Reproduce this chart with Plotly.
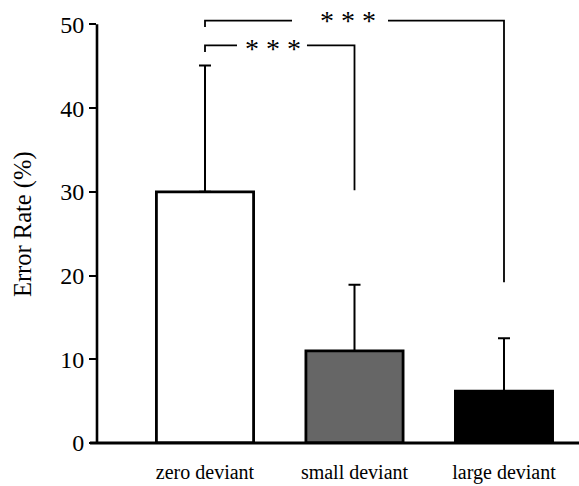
import plotly.graph_objects as go

# ---- data ----
categories = ["zero deviant", "small deviant", "large deviant"]
error_rate = [30.0, 11.0, 6.2]
error_sd = [15.1, 7.9, 6.3]
y_ticks = [0, 10, 20, 30, 40, 50]

# significance comparisons
comp_from = [0, 0]
comp_to = [1, 2]
comp_level = [47.5, 50.45]
comp_left_drop = [46.7, 49.7]
comp_right_drop = [30.2, 19.2]
comp_label = ["* * *", "* * *"]

# ---- style ----
bar_colors = ["white", "#666666", "black"]
FONT = "Liberation Serif, Times New Roman, serif"
gap_start = [0.214, 0.291]
gap_end = [0.682, 0.612]
label_frac = [0.455, 0.478]
label_yshift = [-3, 0]

fig = go.Figure()
fig.add_trace(go.Bar(
    x=categories, y=error_rate, width=0.65,
    marker=dict(color=bar_colors, line=dict(color="black", width=2.8)),
    error_y=dict(type="data", array=error_sd, arrayminus=[0] * len(error_sd),
                 symmetric=False, color="black", thickness=2, width=6),
    showlegend=False,
))

shapes = []
annotations = []
for k in range(len(comp_from)):
    i, j = comp_from[k], comp_to[k]
    lv = comp_level[k]
    span = j - i
    xa = i + gap_start[k] * span
    xb = i + gap_end[k] * span
    shapes.append(dict(type="path", xref="x", yref="y",
                       path=f"M {i},{comp_left_drop[k]} L {i},{lv} L {xa},{lv}",
                       line=dict(color="black", width=1.8)))
    shapes.append(dict(type="path", xref="x", yref="y",
                       path=f"M {xb},{lv} L {j},{lv} L {j},{comp_right_drop[k]}",
                       line=dict(color="black", width=1.8)))
    annotations.append(dict(x=i + label_frac[k] * span, y=lv, xref="x", yref="y",
                            text=comp_label[k], showarrow=False,
                            xanchor="center", yanchor="middle", yshift=label_yshift[k],
                            font=dict(family=FONT, size=28, color="black")))

# axis lines
shapes.append(dict(type="line", xref="x domain", yref="y domain",
                   x0=0, x1=0, y0=0, y1=50 / 51, line=dict(color="black", width=2.6)))
shapes.append(dict(type="line", xref="x domain", yref="y domain",
                   x0=-0.0145, x1=1, y0=0, y1=0, line=dict(color="black", width=2.8)))

annotations.append(dict(x=-0.1535, y=0.5129, xref="paper", yref="paper",
                        text="Error Rate (%)", textangle=-90, showarrow=False,
                        xanchor="center", yanchor="middle",
                        font=dict(family=FONT, size=24.5, color="black")))

fig.update_layout(
    width=579, height=486,
    margin=dict(l=97, r=0, t=16, b=43),
    paper_bgcolor="white", plot_bgcolor="white",
    shapes=shapes, annotations=annotations,
    showlegend=False,
    xaxis=dict(range=[-0.7224, 2.5017], showline=False, showgrid=False, zeroline=False,
               ticks="outside", ticklen=11, tickcolor="rgba(0,0,0,0)",
               tickfont=dict(family=FONT, size=20, color="black")),
    yaxis=dict(range=[0, 51], tickvals=y_ticks, showline=False, showgrid=False,
               zeroline=False, ticks="outside", ticklen=7, tickwidth=2.2,
               tickcolor="black", tickfont=dict(family=FONT, size=24, color="black")),
)

fig.write_html("out.html")
